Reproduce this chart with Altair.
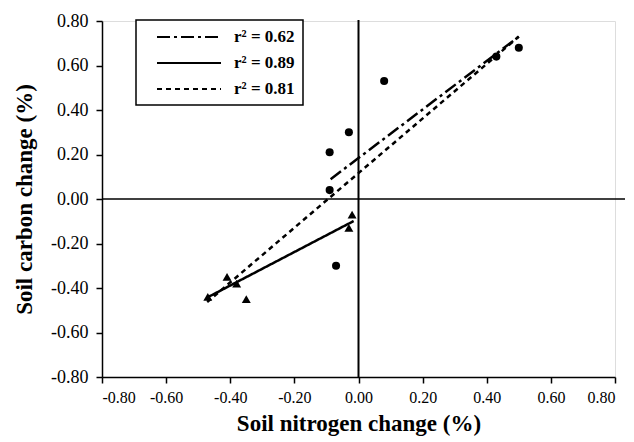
import altair as alt
import pandas as pd

# Data
circle_x = [0.50, 0.43, 0.08, -0.03, -0.09, -0.09, -0.07]
circle_y = [0.68, 0.64, 0.53, 0.30, 0.21, 0.04, -0.30]
tri_x = [-0.02, -0.03, -0.41, -0.38, -0.35, -0.47]
tri_y = [-0.07, -0.13, -0.35, -0.38, -0.45, -0.44]

fit_labels = ["r² = 0.62", "r² = 0.89", "r² = 0.81"]
fit_x0 = [-0.087, -0.472, -0.472]
fit_y0 = [0.089, -0.443, -0.463]
fit_x1 = [0.50, -0.015, 0.50]
fit_y1 = [0.73, -0.099, 0.73]
fit_dash = [[13, 4, 3, 4], [1, 0], [5, 4]]

ticks = [-0.8, -0.6, -0.4, -0.2, 0.0, 0.2, 0.4, 0.6, 0.8]

FONT = "Liberation Serif"

pts_c = pd.DataFrame({"x": circle_x, "y": circle_y})
pts_t = pd.DataFrame({"x": tri_x, "y": tri_y})
rows = []
for lab, a, b, c, d in zip(fit_labels, fit_x0, fit_y0, fit_x1, fit_y1):
    rows.append({"fit": lab, "x": a, "y": b})
    rows.append({"fit": lab, "x": c, "y": d})
fits = pd.DataFrame(rows)

label_expr = "(datum.value < 0 ? '-' : '') + format(abs(datum.value), '.2f')"

xscale = alt.Scale(domain=[-0.8, 0.8], nice=False, zero=False)
yscale = alt.Scale(domain=[-0.8, 0.8], nice=False, zero=False)

xaxis = alt.Axis(values=ticks, labelExpr=label_expr, title="Soil nitrogen change (%)",
                 grid=False, domainColor="black", domainWidth=1.5, tickColor="black",
                 tickWidth=1.5, tickSize=6, labelFont=FONT, labelFontSize=16,
                 labelColor="black", labelPadding=6, titleFont=FONT, titleFontSize=23,
                 titleFontWeight="bold", titleColor="black", titlePadding=7)
yaxis = alt.Axis(values=ticks, labelExpr=label_expr, title="Soil carbon change (%)",
                 grid=False, domainColor="black", domainWidth=1.5, tickColor="black",
                 tickWidth=1.5, tickSize=6, labelFont=FONT, labelFontSize=18,
                 labelColor="black", labelPadding=8, titleFont=FONT, titleFontSize=23,
                 titleFontWeight="bold", titleColor="black", titlePadding=14)

base_x = alt.X("x:Q", scale=xscale, axis=xaxis)
base_y = alt.Y("y:Q", scale=yscale, axis=yaxis)

zero_h = alt.Chart(pd.DataFrame({"y": [0.0]})).mark_rule(color="black", strokeWidth=1.5).encode(
    y=alt.Y("y:Q", scale=yscale), x=alt.value(0), x2=alt.value(528))
zero_v = alt.Chart(pd.DataFrame({"x": [0.0]})).mark_rule(color="black", strokeWidth=2).encode(
    x=alt.X("x:Q", scale=xscale), y=alt.value(-1), y2=alt.value(356))

lines = alt.Chart(fits).mark_line(color="black", strokeWidth=2.5).encode(
    x=base_x, y=base_y,
    detail="fit:N",
    strokeDash=alt.StrokeDash(
        "fit:N",
        scale=alt.Scale(domain=fit_labels, range=fit_dash),
        sort=fit_labels,
        legend=alt.Legend(
            title=None, orient="none", legendX=34, legendY=-1,
            strokeColor="black", fillColor="white",
            padding=8, rowPadding=9, symbolType="M-4,0H4", symbolSize=256,
            symbolStrokeWidth=2, symbolStrokeColor="black", symbolOffset=36,
            labelFont=FONT, labelFontSize=17, labelFontWeight="bold",
            labelColor="black", labelOffset=36,
            labelExpr="datum.label + '  '",
        ),
    ),
)

circles = alt.Chart(pts_c).mark_point(shape="circle", filled=True, color="black", size=65, opacity=1).encode(
    x=base_x, y=base_y)
tris = alt.Chart(pts_t).mark_point(shape="triangle-up", filled=True, color="black", size=80, opacity=1).encode(
    x=base_x, y=base_y)

chart = alt.layer(zero_h, zero_v, lines, circles, tris).properties(
    width=513, height=356,
    autosize=alt.AutoSizeParams(type="none"),
    padding={"left": 94, "top": 13, "right": 10, "bottom": 60},
).configure_view(strokeWidth=0).configure(background="white").configure_legend(strokeWidth=1.5)

chart.save("out.html", embed_options={"renderer": "svg", "actions": False})
